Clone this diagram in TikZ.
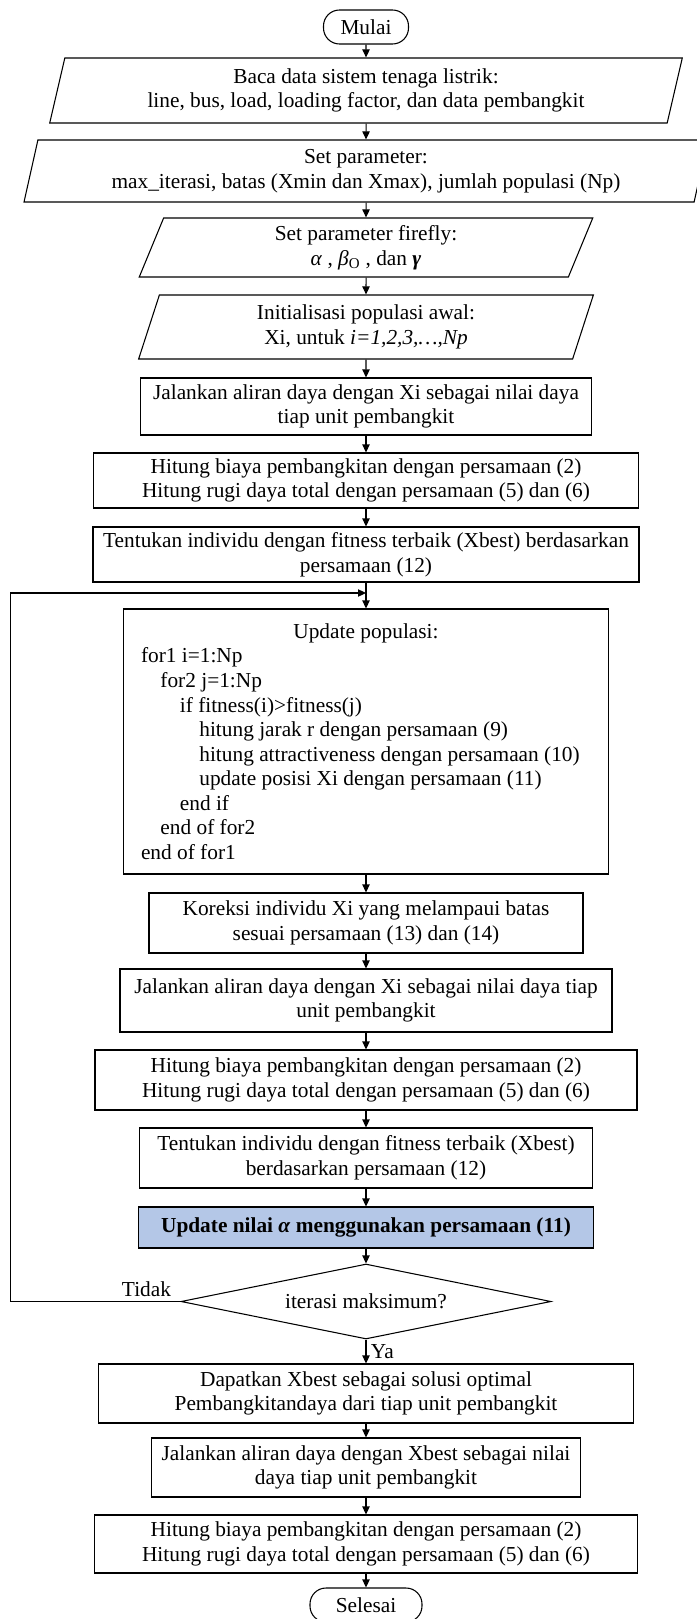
\documentclass[tikz,border=0pt]{standalone}
\usepackage{fontspec}
\setmainfont{Liberation Serif}
\usetikzlibrary{shapes.geometric,arrows.meta}
\tikzset {>={Stealth[inset=0pt,length=6pt,width=5.5pt]}}
\tikzset{
  base/.style={inner sep=0pt, align=center},
  proc/.style={base, draw, rectangle},
  io/.style={base, draw, trapezium, trapezium left angle=76,
    trapezium right angle=104, trapezium stretches=true},
  term/.style={base, draw, rounded corners=12pt},
  cond/.style={base, draw, diamond, aspect=4.9},
  wd/.style={minimum width=#1*0.75pt},
  ht/.style={minimum height=#1*0.75pt}
}
\definecolor{alphablue}{HTML}{B4C7E7}
\newcommand{\lvl}[1]{\hspace*{#1\dimexpr 14.6pt\relax}}

\begin{document}
\begin{tikzpicture}[x=0.75pt,y=-0.75pt,line width=0.8pt,
  font=\fontsize{16}{18.4}\selectfont]
\useasboundingbox (0,0) rectangle (696,1619);

% inisialisasi
\node[term, wd=85, ht=34] (mulai) at (366,27) {Mulai};
\node[io, wd=634, ht=65] (baca) at (366,90.5)
  {Baca data sistem tenaga listrik:\\ line, bus, load, loading factor, dan data pembangkit};
\node[io, wd=687, ht=62] (setpar) at (366,171)
  {Set parameter:\\ max\_iterasi, batas (Xmin dan Xmax), jumlah populasi (Np)};
\node[io, wd=454, ht=59] (firefly) at (366,247.5)
  {Set parameter firefly:\\ \textit{α} , \textit{β}\textsubscript{O} , dan \textbf{\textit{γ}}};
\node[io, wd=455, ht=64] (init) at (366,327)
  {Initialisasi populasi awal:\\ Xi, untuk \textit{i=1,2,3,…,Np}};
\node[proc, wd=451, ht=57] (jalan1) at (366,406.5)
  {Jalankan aliran daya dengan Xi sebagai nilai daya\\ tiap unit pembangkit};
\node[proc, wd=545, ht=55] (hitung1) at (366,480.5)
  {Hitung biaya pembangkitan dengan persamaan (2)\\ Hitung rugi daya total dengan persamaan (5) dan (6)};
\node[proc, wd=546, ht=55] (tentu1) at (366,554.5)
  {Tentukan individu dengan fitness terbaik (Xbest) berdasarkan\\ persamaan (12)};
\coordinate (join) at (366,593);

% iterasi
\node[proc, wd=485, ht=265, text width=450*0.75pt, align=flush left] (update) at (366,741.5)
  {\makebox[\linewidth]{Update populasi:}\\
   for1 i=1:Np\\
   \lvl{1}for2 j=1:Np\\
   \lvl{2}if fitness(i)>fitness(j)\\
   \lvl{3}hitung jarak r dengan persamaan (9)\\
   \lvl{3}hitung attractiveness dengan persamaan (10)\\
   \lvl{3}update posisi Xi dengan persamaan (11)\\
   \lvl{2}end if\\
   \lvl{1}end of for2\\
   end of for1};
\node[proc, wd=434, ht=60] (koreksi) at (366,923)
  {Koreksi individu Xi yang melampaui batas\\ sesuai persamaan (13) dan (14)};
\node[proc, wd=492, ht=63] (jalan2) at (366,1000.5)
  {Jalankan aliran daya dengan Xi sebagai nilai daya tiap\\ unit pembangkit};
\node[proc, wd=542, ht=60] (hitung2) at (366,1080)
  {Hitung biaya pembangkitan dengan persamaan (2)\\ Hitung rugi daya total dengan persamaan (5) dan (6)};
\node[proc, wd=453, ht=60] (tentu2) at (366,1158)
  {Tentukan individu dengan fitness terbaik (Xbest)\\ berdasarkan persamaan (12)};
\node[proc, wd=455, ht=41, fill=alphablue, font=\fontsize{16}{18.4}\selectfont\bfseries] (alpha) at (366,1227.5)
  {Update nilai \textit{α} menggunakan persamaan (11)};
\node[cond, wd=370, ht=75] (cek) at (366,1301.5) {iterasi maksimum?};

% hasil
\node[proc, wd=535, ht=59] (dapat) at (366,1393.5)
  {Dapatkan Xbest sebagai solusi optimal\\ Pembangkitandaya dari tiap unit pembangkit};
\node[proc, wd=429, ht=59] (jalan3) at (366,1467.5)
  {Jalankan aliran daya dengan Xbest sebagai nilai\\ daya tiap unit pembangkit};
\node[proc, wd=543, ht=58] (hitung3) at (366,1544)
  {Hitung biaya pembangkitan dengan persamaan (2)\\ Hitung rugi daya total dengan persamaan (5) dan (6)};
\node[term, wd=112, ht=34] (selesai) at (366,1605) {Selesai};

\draw[->] (mulai) -- (baca);
\draw[->] (baca) -- (setpar);
\draw[->] (setpar) -- (firefly);
\draw[->] (firefly) -- (init);
\draw[->] (init) -- (jalan1);
\draw[->] (jalan1) -- (hitung1);
\draw[->] (hitung1) -- (tentu1);
\draw[->] (tentu1) -- (update);
\draw[->] (update) -- (koreksi);
\draw[->] (koreksi) -- (jalan2);
\draw[->] (jalan2) -- (hitung2);
\draw[->] (hitung2) -- (tentu2);
\draw[->] (tentu2) -- (alpha);
\draw[->] (alpha) -- (cek);
\draw[->] (cek) -- node[right] {Ya} (dapat);
\draw[->] (dapat) -- (jalan3);
\draw[->] (jalan3) -- (hitung3);
\draw[->] (hitung3) -- (selesai);
\draw[->] (cek.west) -- node[pos=0.2, above] {Tidak} ++(-170,0) |- (join);

\end{tikzpicture}
\end{document}
